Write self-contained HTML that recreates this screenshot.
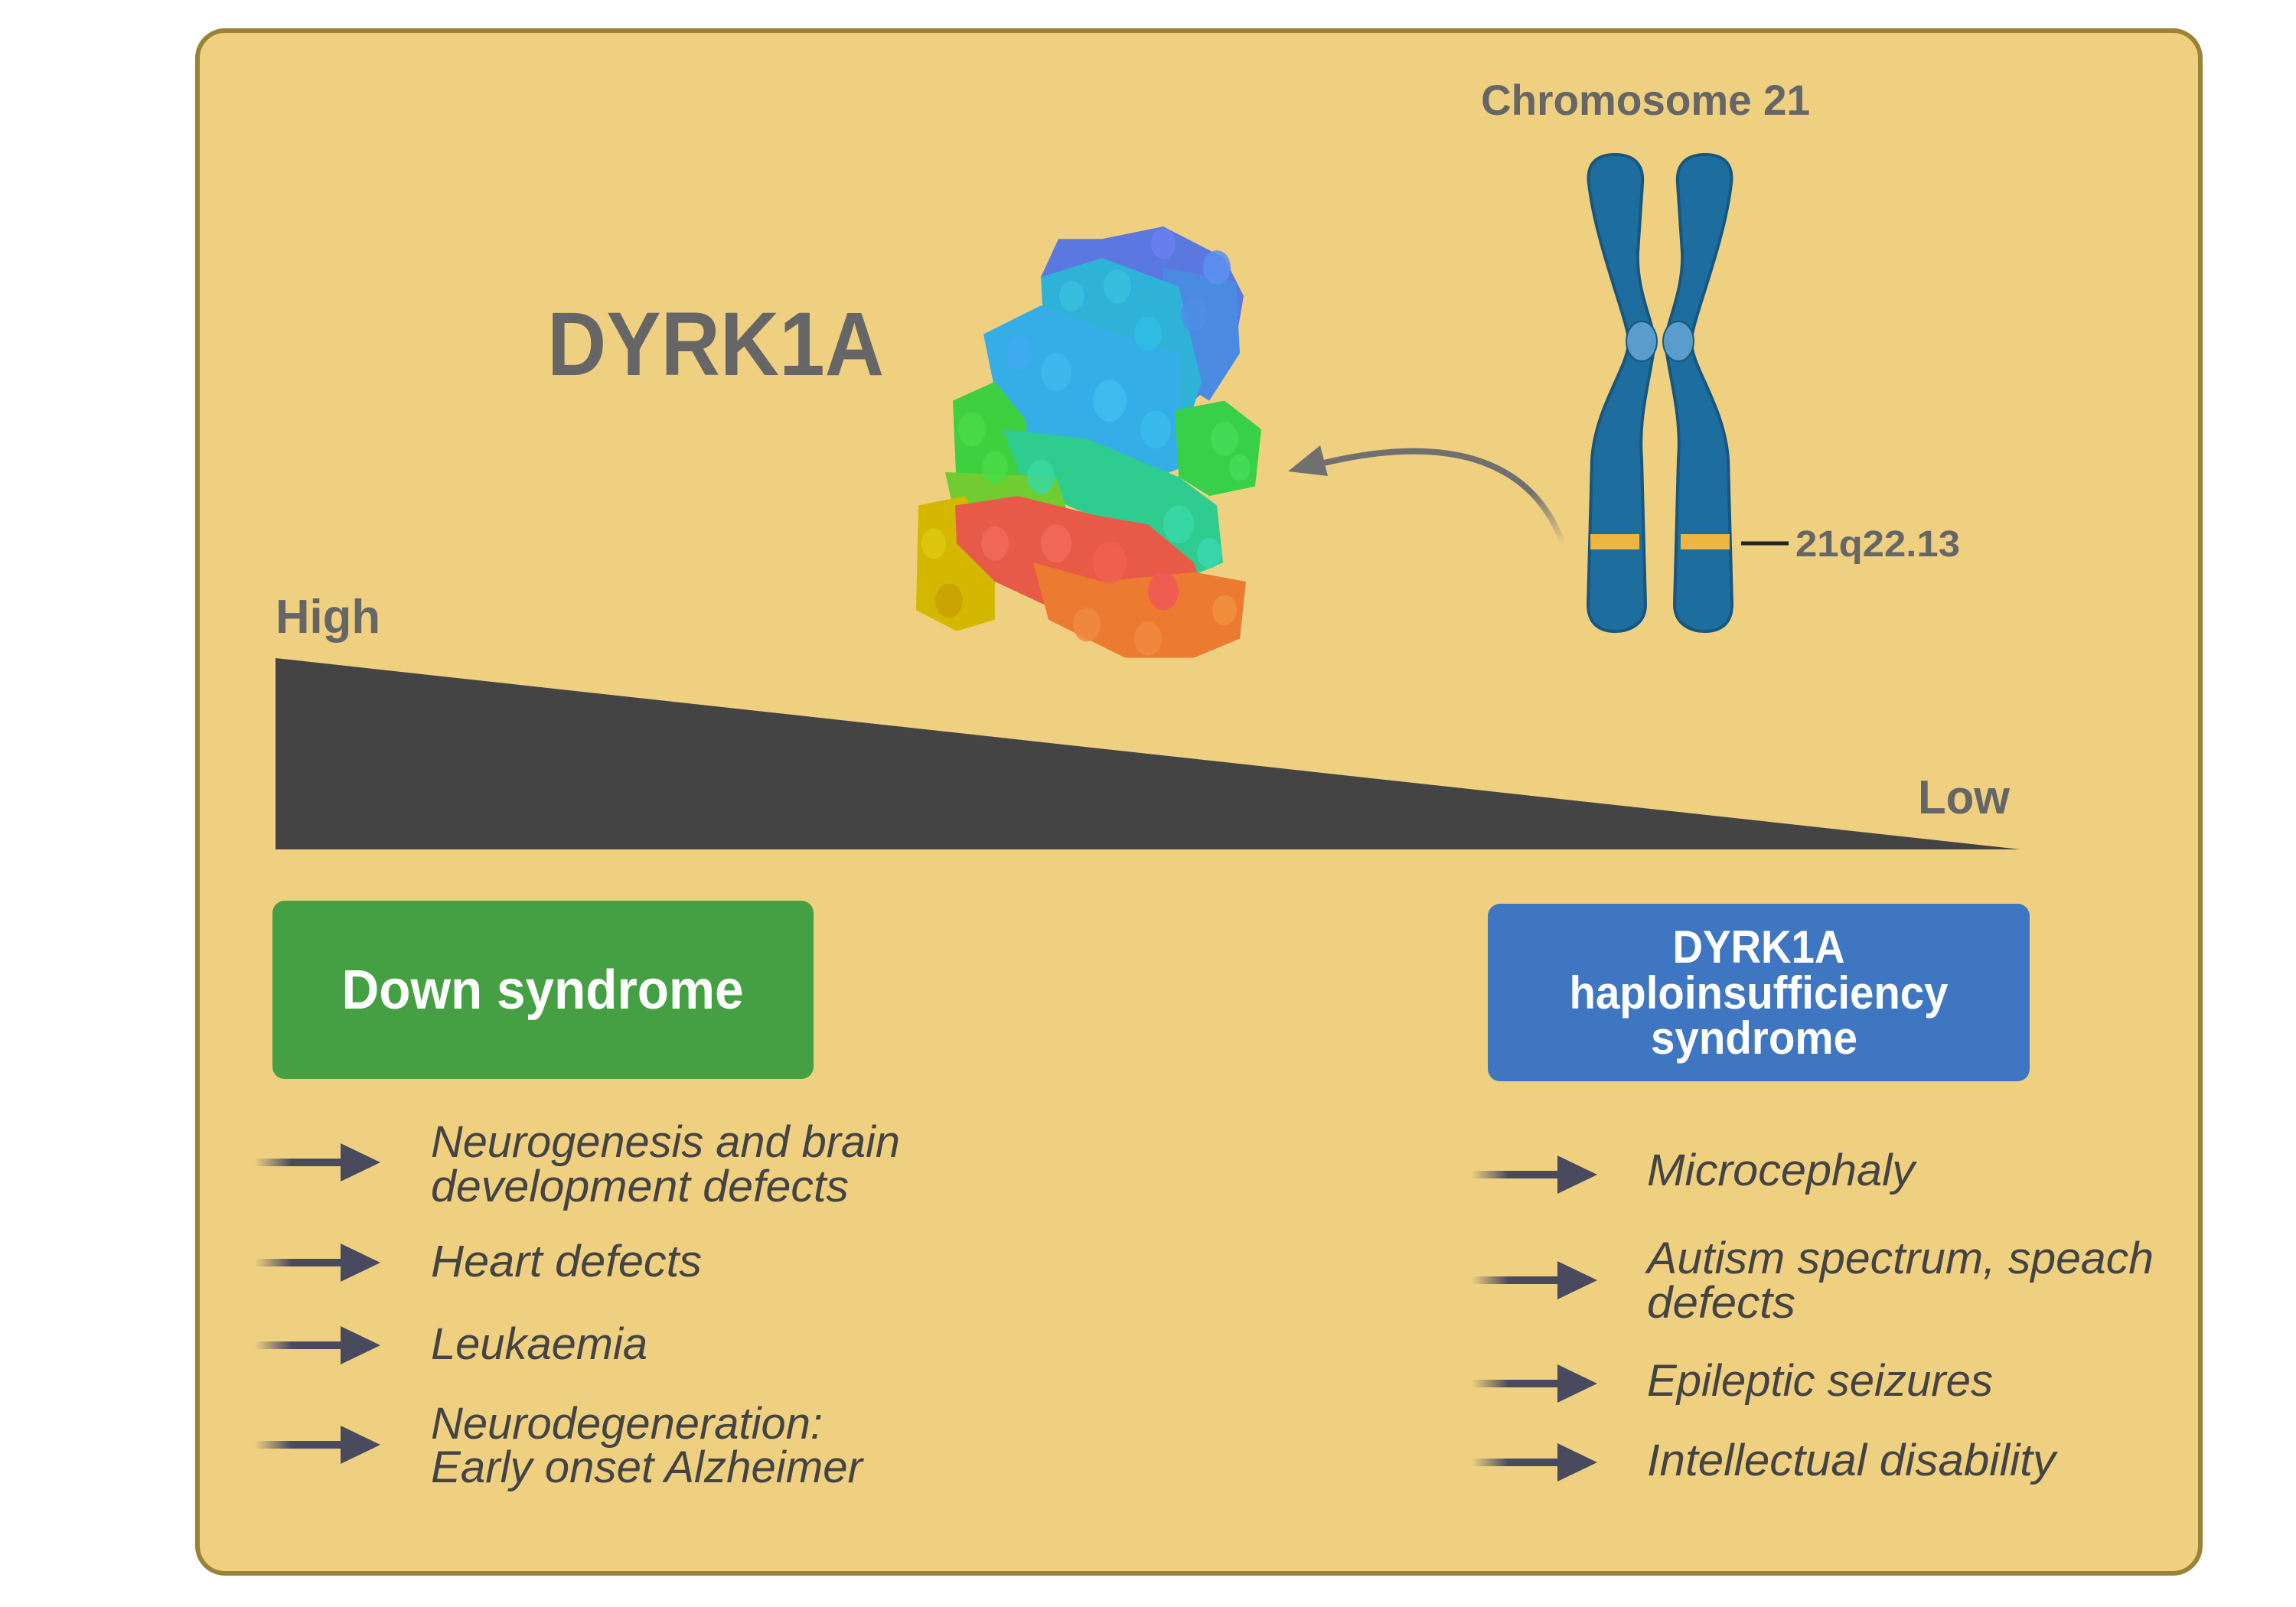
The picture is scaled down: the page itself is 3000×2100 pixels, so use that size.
<!DOCTYPE html>
<html><head><meta charset="utf-8"><style>
html,body{margin:0;padding:0;background:#fff;}
svg{display:block;}
text{font-family:"Liberation Sans",sans-serif;}
</style></head><body>
<svg width="3000" height="2100" viewBox="0 0 3000 2100" xmlns="http://www.w3.org/2000/svg">
<defs>
<linearGradient id="ag" x1="0" y1="0" x2="1" y2="0">
<stop offset="0" stop-color="#4a4a5e" stop-opacity="0"/><stop offset="0.4" stop-color="#4a4a5e"/><stop offset="1" stop-color="#4a4a5e"/>
</linearGradient>
<linearGradient id="cg" x1="1" y1="1" x2="0" y2="0">
<stop offset="0" stop-color="#707070" stop-opacity="0"/><stop offset="0.35" stop-color="#707070"/><stop offset="1" stop-color="#707070"/>
</linearGradient>
<g id="arr"><rect x="0" y="-5" width="120" height="10" fill="url(#ag)"/><polygon points="112,-25 164,0 112,25" fill="#4a4a5e"/></g>
</defs>
<rect x="258" y="40" width="2617" height="2016" rx="36" fill="#efd081" stroke="#9a8236" stroke-width="6"/>

<text x="715" y="490" font-size="118" font-weight="bold" fill="#666" textLength="440" lengthAdjust="spacingAndGlyphs">DYRK1A</text>
<text x="1935" y="150" font-size="56" font-weight="bold" fill="#666" textLength="430" lengthAdjust="spacingAndGlyphs">Chromosome 21</text>
<text x="360" y="827" font-size="62" font-weight="bold" fill="#666" textLength="137" lengthAdjust="spacingAndGlyphs">High</text>
<text x="2506" y="1063" font-size="62" font-weight="bold" fill="#666" textLength="120" lengthAdjust="spacingAndGlyphs">Low</text>

<!-- protein -->
<g transform="translate(0,-61) scale(1,1.244)">
<path d="M1383,300 L1440,300 L1520,287 L1600,320 L1625,360 L1610,430 L1560,470 L1380,470 L1360,340 Z" fill="#5a78e0"/>
<path d="M1520,330 L1615,345 L1620,420 L1580,470 L1520,440 Z" fill="#4a8ae0"/>
<path d="M1360,340 L1440,320 L1540,350 L1570,450 L1550,500 L1370,490 Z" fill="#2fb2d8"/>
<path d="M1285,400 L1360,370 L1460,400 L1540,420 L1545,540 L1480,560 L1330,500 L1300,460 Z" fill="#35aee8"/>
<path d="M1245,470 L1300,450 L1340,490 L1350,560 L1250,565 Z" fill="#3fd040"/>
<path d="M1535,480 L1600,470 L1648,500 L1640,560 L1580,570 L1540,550 Z" fill="#38d048"/>
<path d="M1310,500 L1420,510 L1540,550 L1590,580 L1598,640 L1540,660 L1450,600 L1340,560 Z" fill="#2fcc90"/>
<path d="M1235,545 L1380,550 L1400,600 L1250,600 Z" fill="#70cc30"/>
<path d="M1200,580 L1260,570 L1300,620 L1300,700 L1250,712 L1197,690 Z" fill="#d4b800"/>
<path d="M1248,580 L1330,570 L1430,590 L1500,600 L1560,640 L1580,690 L1500,700 L1380,690 L1300,660 L1250,620 Z" fill="#e85a48"/>
<path d="M1350,640 L1440,660 L1560,650 L1628,660 L1620,720 L1560,740 L1470,740 L1370,700 Z" fill="#ec7a30"/>
<g fill-opacity="0.85">
<circle cx="1520" cy="305" r="16" fill="#6a80f0"/><circle cx="1590" cy="330" r="18" fill="#5a90ee"/><circle cx="1560" cy="380" r="17" fill="#4f8de6"/>
<circle cx="1400" cy="360" r="16" fill="#38c0e0"/><circle cx="1460" cy="350" r="18" fill="#38c0e0"/><circle cx="1500" cy="400" r="18" fill="#30bce8"/>
<circle cx="1330" cy="420" r="18" fill="#40aaf0"/><circle cx="1380" cy="440" r="20" fill="#40b8f0"/><circle cx="1450" cy="470" r="22" fill="#40bcf0"/><circle cx="1510" cy="500" r="20" fill="#38bcf0"/>
<circle cx="1270" cy="500" r="18" fill="#48dc48"/><circle cx="1300" cy="540" r="17" fill="#48dc48"/><circle cx="1600" cy="510" r="18" fill="#48dc58"/><circle cx="1620" cy="540" r="14" fill="#48dc58"/>
<circle cx="1360" cy="550" r="18" fill="#38d8a0"/><circle cx="1540" cy="600" r="20" fill="#38d8a8"/><circle cx="1580" cy="630" r="16" fill="#38d8b0"/>
<circle cx="1220" cy="620" r="16" fill="#e0c810"/><circle cx="1240" cy="680" r="18" fill="#c8a000"/>
<circle cx="1300" cy="620" r="18" fill="#f06a58"/><circle cx="1380" cy="620" r="20" fill="#f06a58"/><circle cx="1450" cy="640" r="22" fill="#f06050"/><circle cx="1520" cy="670" r="20" fill="#f05858"/>
<circle cx="1420" cy="705" r="18" fill="#f08a40"/><circle cx="1500" cy="720" r="18" fill="#f08a40"/><circle cx="1600" cy="690" r="16" fill="#f09040"/>
</g>
</g>

<!-- curved arrow -->
<path d="M2042,711 C2010,620 1920,560 1730,605" fill="none" stroke="url(#cg)" stroke-width="8"/>
<polygon points="1683,616 1725,582 1735,622" fill="#707070"/>

<!-- chromosome -->
<g id="chr">
<path d="M2110,202 C2135,202 2148,215 2146,240 L2140,330 C2138,380 2160,420 2162,446 C2160,480 2140,540 2145,600 L2150,790 C2150,815 2130,825 2110,825 C2090,825 2075,815 2075,790 L2080,600 C2085,530 2128,480 2128,446 C2128,420 2085,320 2076,240 C2073,215 2085,202 2110,202 Z" fill="#1e6d9f" stroke="#17577f" stroke-width="4"/>
<rect x="2078" y="698" width="64" height="20" fill="#f0b440"/>
<ellipse cx="2145" cy="446" rx="20" ry="26" fill="#5a9ccc" stroke="#17577f" stroke-width="2"/>
</g>
<use href="#chr" transform="translate(4338,0) scale(-1,1)"/>
<line x1="2275" y1="710" x2="2337" y2="710" stroke="#222" stroke-width="5"/>
<text x="2346" y="727" font-size="48" font-weight="bold" fill="#666" textLength="215" lengthAdjust="spacingAndGlyphs">21q22.13</text>

<!-- gradient triangle -->
<polygon points="360,860 360,1110 2640,1110" fill="#444"/>

<!-- boxes -->
<rect x="356" y="1177" width="707" height="233" rx="16" fill="#45a043"/>
<text x="709" y="1318" font-size="72" font-weight="bold" fill="#fff" text-anchor="middle" textLength="525" lengthAdjust="spacingAndGlyphs">Down syndrome</text>
<rect x="1944" y="1181" width="708" height="232" rx="16" fill="#3f76c2"/>
<text x="2298" y="1258" font-size="60" font-weight="bold" fill="#fff" text-anchor="middle" textLength="225" lengthAdjust="spacingAndGlyphs">DYRK1A</text>
<text x="2298" y="1318" font-size="60" font-weight="bold" fill="#fff" text-anchor="middle" textLength="495" lengthAdjust="spacingAndGlyphs">haploinsufficiency</text>
<text x="2292" y="1377" font-size="60" font-weight="bold" fill="#fff" text-anchor="middle" textLength="270" lengthAdjust="spacingAndGlyphs">syndrome</text>

<!-- arrows -->
<use href="#arr" transform="translate(333,1519)"/>
<use href="#arr" transform="translate(333,1650)"/>
<use href="#arr" transform="translate(333,1758)"/>
<use href="#arr" transform="translate(333,1888)"/>
<use href="#arr" transform="translate(1923,1535)"/>
<use href="#arr" transform="translate(1923,1673)"/>
<use href="#arr" transform="translate(1923,1808)"/>
<use href="#arr" transform="translate(1923,1911)"/>

<g font-size="58" font-style="italic" fill="#444">
<text x="563" y="1512" textLength="613" lengthAdjust="spacingAndGlyphs">Neurogenesis and brain</text>
<text x="563" y="1570" textLength="546" lengthAdjust="spacingAndGlyphs">development defects</text>
<text x="563" y="1668" textLength="354" lengthAdjust="spacingAndGlyphs">Heart defects</text>
<text x="563" y="1776" textLength="283" lengthAdjust="spacingAndGlyphs">Leukaemia</text>
<text x="563" y="1880" textLength="512" lengthAdjust="spacingAndGlyphs">Neurodegeneration:</text>
<text x="563" y="1937" textLength="564" lengthAdjust="spacingAndGlyphs">Early onset Alzheimer</text>
<text x="2152" y="1549" textLength="350" lengthAdjust="spacingAndGlyphs">Microcephaly</text>
<text x="2152" y="1664" textLength="662" lengthAdjust="spacingAndGlyphs">Autism spectrum, speach</text>
<text x="2152" y="1722" textLength="194" lengthAdjust="spacingAndGlyphs">defects</text>
<text x="2152" y="1824" textLength="452" lengthAdjust="spacingAndGlyphs">Epileptic seizures</text>
<text x="2152" y="1928" textLength="534" lengthAdjust="spacingAndGlyphs">Intellectual disability</text>
</g>
</svg>
</body></html>
